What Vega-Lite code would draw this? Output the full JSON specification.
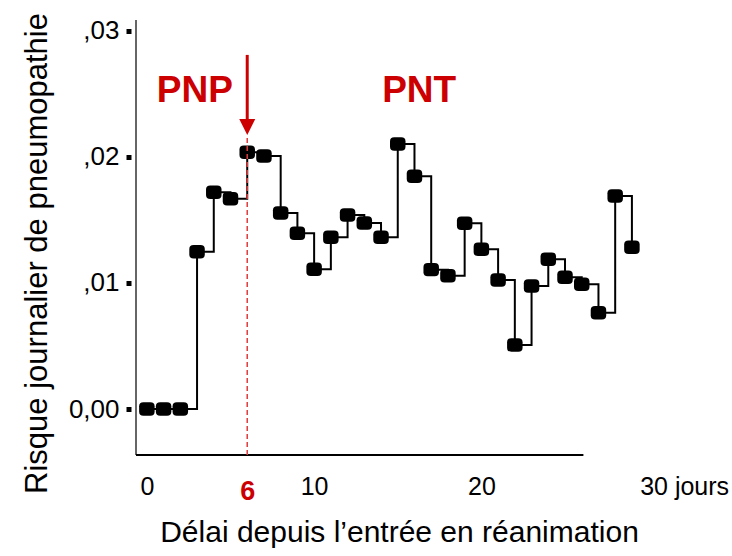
{
  "$schema": "https://vega.github.io/schema/vega-lite/v6.json",
  "autosize": {"type": "none"},
  "padding": {"left": 136, "top": 20, "right": 75, "bottom": 101},
  "width": 521,
  "height": 435,
  "background": "white",
  "config": {"view": {"stroke": null}, "font": "Liberation Sans", "axis": {"grid": false}},
  "datasets": {
    "risk": [
      {"day": 0, "risk": 0},
      {"day": 1, "risk": 0},
      {"day": 2, "risk": 0},
      {"day": 3, "risk": 0.01248},
      {"day": 4, "risk": 0.0172},
      {"day": 5, "risk": 0.01669},
      {"day": 6, "risk": 0.02037},
      {"day": 7, "risk": 0.02008},
      {"day": 8, "risk": 0.01556},
      {"day": 9, "risk": 0.01394},
      {"day": 10, "risk": 0.01109},
      {"day": 11, "risk": 0.01363},
      {"day": 12, "risk": 0.0154},
      {"day": 13, "risk": 0.01476},
      {"day": 14, "risk": 0.01363},
      {"day": 15, "risk": 0.02103},
      {"day": 16, "risk": 0.01847},
      {"day": 17, "risk": 0.01106},
      {"day": 18, "risk": 0.01058},
      {"day": 19, "risk": 0.01474},
      {"day": 20, "risk": 0.01267},
      {"day": 21, "risk": 0.01024},
      {"day": 22, "risk": 0.00508},
      {"day": 23, "risk": 0.00976},
      {"day": 24, "risk": 0.01188},
      {"day": 25, "risk": 0.01045},
      {"day": 26, "risk": 0.0099},
      {"day": 27, "risk": 0.00764},
      {"day": 28, "risk": 0.0169},
      {"day": 29, "risk": 0.01283}
    ],
    "cutoff": [{"day": 6}],
    "labels": [
      {"day": 2.87, "risk": 0.02437, "text": "PNP"},
      {"day": 16.28, "risk": 0.02437, "text": "PNT"}
    ]
  },
  "layer": [
    {
      "data": {"name": "risk"},
      "mark": {"type": "line", "interpolate": "step-after", "color": "black", "strokeWidth": 2},
      "encoding": {
        "x": {
          "field": "day", "type": "quantitative",
          "scale": {"domain": [-0.65, 30.5], "nice": false, "zero": false},
          "axis": {
            "values": [0, 6, 10, 20, 30],
            "domain": false, "ticks": false, "tickSize": 0, "grid": false,
            "labelExpr": "datum.value == 30 ? '30 jours' : datum.label",
            "labelFont": "Liberation Sans",
            "labelFontSize": {"condition": {"test": "datum.value == 6", "value": 27}, "value": 25},
            "labelFontWeight": {"condition": {"test": "datum.value == 6", "value": "bold"}, "value": "normal"},
            "labelColor": {"condition": {"test": "datum.value == 6", "value": "#cc0000"}, "value": "black"},
            "labelAlign": {"condition": {"test": "datum.value == 30", "value": "left"}, "value": "center"},
            "labelOffset": {"condition": {"test": "datum.value == 30", "value": -9}, "value": 0},
            "labelPadding": {"condition": {"test": "datum.value == 6", "value": 23}, "value": 19},
            "labelBaseline": "top",
            "labelBound": false, "labelOverlap": false, "labelFlush": false,
            "title": "Délai depuis l’entrée en réanimation",
            "titleFont": "Liberation Sans", "titleFontSize": 30, "titleFontWeight": "normal", "titleColor": "black",
            "titleX": 263, "titleY": 86, "titleBaseline": "alphabetic", "titleAlign": "center"
          }
        },
        "y": {
          "field": "risk", "type": "quantitative",
          "scale": {"domain": [-0.00365, 0.03087], "nice": false, "zero": false},
          "axis": {
            "values": [0, 0.01, 0.02, 0.03],
            "offset": 5, "domain": false, "grid": false,
            "ticks": true, "tickSize": 5, "tickWidth": 5, "tickColor": "black",
            "labelExpr": "datum.value < 0.005 ? '0,00' : (datum.value < 0.015 ? ',01' : (datum.value < 0.025 ? ',02' : ',03'))",
            "labelFont": "Liberation Sans", "labelFontSize": 26, "labelColor": "black", "labelPadding": 7,
            "labelBaseline": "middle",
            "labelBound": false, "labelOverlap": false, "labelFlush": false,
            "title": "Risque journalier de pneumopathie",
            "titleFont": "Liberation Sans", "titleFontSize": 31, "titleFontWeight": "normal", "titleColor": "black",
            "titleX": -85, "titleY": 233, "titleBaseline": "alphabetic", "titleAlign": "center", "titleAngle": 270
          }
        }
      }
    },
    {
      "data": {"name": "risk"},
      "mark": {
        "type": "point", "filled": true, "color": "black", "opacity": 1, "size": 240,
        "shape": "M-0.45,-0.87L0.45,-0.87Q1,-0.87 1,-0.35L1,0.35Q1,0.87 0.45,0.87L-0.45,0.87Q-1,0.87 -1,0.35L-1,-0.35Q-1,-0.87 -0.45,-0.87Z"
      },
      "encoding": {
        "x": {"field": "day", "type": "quantitative"},
        "y": {"field": "risk", "type": "quantitative"}
      }
    },
    {
      "data": {"values": [{}]},
      "mark": {"type": "rule", "color": "#666666", "strokeWidth": 2},
      "encoding": {
        "x": {"datum": -0.65, "type": "quantitative"},
        "y": {"datum": -0.00365, "type": "quantitative"},
        "y2": {"datum": 0.03087}
      }
    },
    {
      "data": {"values": [{}]},
      "mark": {"type": "rule", "color": "black", "strokeWidth": 2},
      "encoding": {
        "x": {"datum": -0.65, "type": "quantitative"},
        "x2": {"datum": 26.1},
        "y": {"datum": -0.00365, "type": "quantitative"}
      }
    },
    {
      "data": {"name": "cutoff"},
      "mark": {"type": "rule", "color": "#e03c3c", "strokeWidth": 1.5, "strokeDash": [5, 3]},
      "encoding": {
        "x": {"field": "day", "type": "quantitative"},
        "y": {"datum": -0.00365, "type": "quantitative"},
        "y2": {"datum": 0.02175}
      }
    },
    {
      "data": {"name": "cutoff"},
      "mark": {"type": "rule", "color": "#cc0000", "strokeWidth": 3},
      "encoding": {
        "x": {"field": "day", "type": "quantitative"},
        "y": {"datum": 0.02294, "type": "quantitative"},
        "y2": {"datum": 0.0281}
      }
    },
    {
      "data": {"name": "cutoff"},
      "mark": {"type": "point", "filled": true, "color": "#cc0000", "opacity": 1, "size": 256, "shape": "M-1,-1L1,-1L0,1Z"},
      "encoding": {
        "x": {"field": "day", "type": "quantitative"},
        "y": {"datum": 0.02238, "type": "quantitative"}
      }
    },
    {
      "data": {"name": "labels"},
      "mark": {"type": "text", "color": "#cc0000", "font": "Liberation Sans", "fontWeight": "bold", "fontSize": 37, "align": "center", "baseline": "alphabetic"},
      "encoding": {
        "x": {"field": "day", "type": "quantitative"},
        "y": {"field": "risk", "type": "quantitative"},
        "text": {"field": "text"}
      }
    }
  ]
}
